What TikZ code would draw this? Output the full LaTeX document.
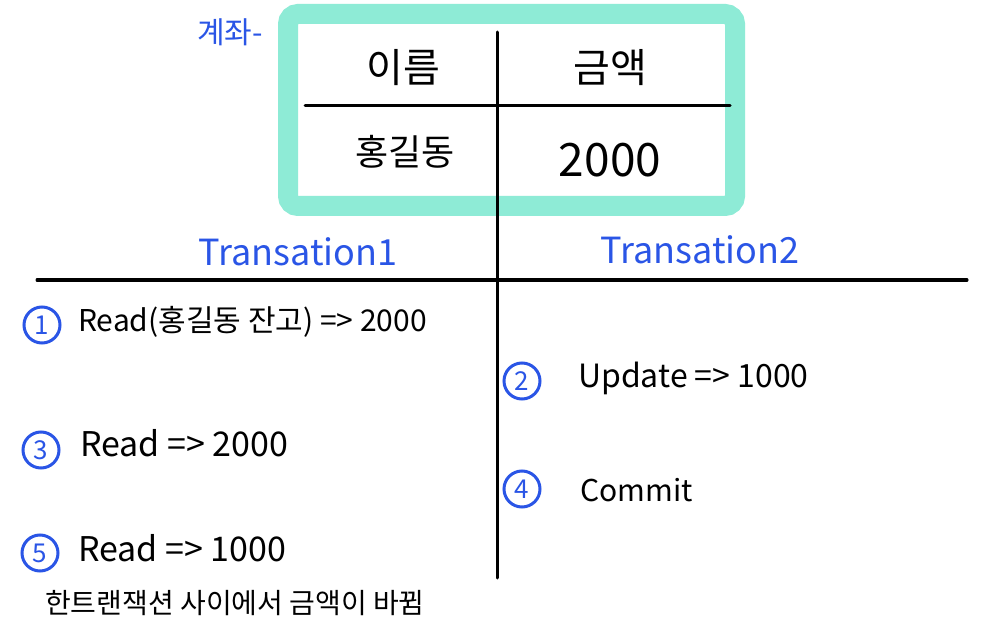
\documentclass[tikz,border=0pt]{standalone}
\usepackage{fontspec}
\setmainfont{Noto Sans CJK KR}
\begin{document}
\begin{tikzpicture}[x=1pt,y=-1pt,
  ink/.style={line width=3pt,black,line cap=round},
  bluetxt/.style={text=myblue,inner sep=0pt},
  blktxt/.style={text=black,inner sep=0pt},
  num/.style={circle,draw=myblue,line width=3pt,text=myblue,inner sep=0pt,minimum size=36pt,font=\fontsize{26}{26}\selectfont}]
\definecolor{myblue}{HTML}{2A55E6}
\definecolor{mint}{HTML}{8EEBD6}
\useasboundingbox (0,0) rectangle (990,644);
\fill[white] (0,0) rectangle (990,644);
% account box
\draw[mint,line width=20pt,rounded corners=10pt] (288,14) rectangle (735,206);
\coordinate (vtop) at (497,32);
\coordinate (vbot) at (497,578);
\coordinate (tl) at (305,106);
\coordinate (tr) at (730,106);
\coordinate (hl) at (37,280);
\coordinate (hr) at (967,280);
\draw[ink] (vtop) -- (vbot);
\draw[ink] (tl) -- (tr);
\draw[ink] (hl) -- (hr);
\node[bluetxt,font=\fontsize{30}{30}\selectfont] (acct) at (230,32) {계좌-};
\node[blktxt,font=\fontsize{40}{40}\selectfont] (name) at (403,68) {이름};
\node[blktxt,font=\fontsize{40}{40}\selectfont] (amt) at (610,68) {금액};
\node[blktxt,font=\fontsize{36}{36}\selectfont] (hong) at (405,152) {홍길동};
\node[blktxt,font=\fontsize{46}{46}\selectfont] (val) at (610,160) {2000};
\node[bluetxt,font=\fontsize{36}{36}\selectfont] (t1) at (298,252) {Transation1};
\node[bluetxt,font=\fontsize{36}{36}\selectfont] (t2) at (700,250) {Transation2};
% steps
\node[num] (n1) at (42,325) {1};
\node[blktxt,font=\fontsize{30}{30}\selectfont,anchor=west] (s1) at (78,322) {Read(홍길동 잔고) => 2000};
\node[num] (n2) at (522,381) {2};
\node[blktxt,font=\fontsize{32}{32}\selectfont,anchor=west] (s2) at (578,378) {Update => 1000};
\node[num] (n3) at (41,450) {3};
\node[blktxt,font=\fontsize{34}{34}\selectfont,anchor=west] (s3) at (80,443) {Read => 2000};
\node[num] (n4) at (522,489) {4};
\node[blktxt,font=\fontsize{30}{30}\selectfont,anchor=west] (s4) at (580,490) {Commit};
\node[num] (n5) at (40,553) {5};
\node[blktxt,font=\fontsize{34}{34}\selectfont,anchor=west] (s5) at (78,548) {Read => 1000};
\node[blktxt,font=\fontsize{28}{28}\selectfont,anchor=west] (note) at (45,603) {한트랜잭션 사이에서 금액이 바뀜};
\end{tikzpicture}
\end{document}
